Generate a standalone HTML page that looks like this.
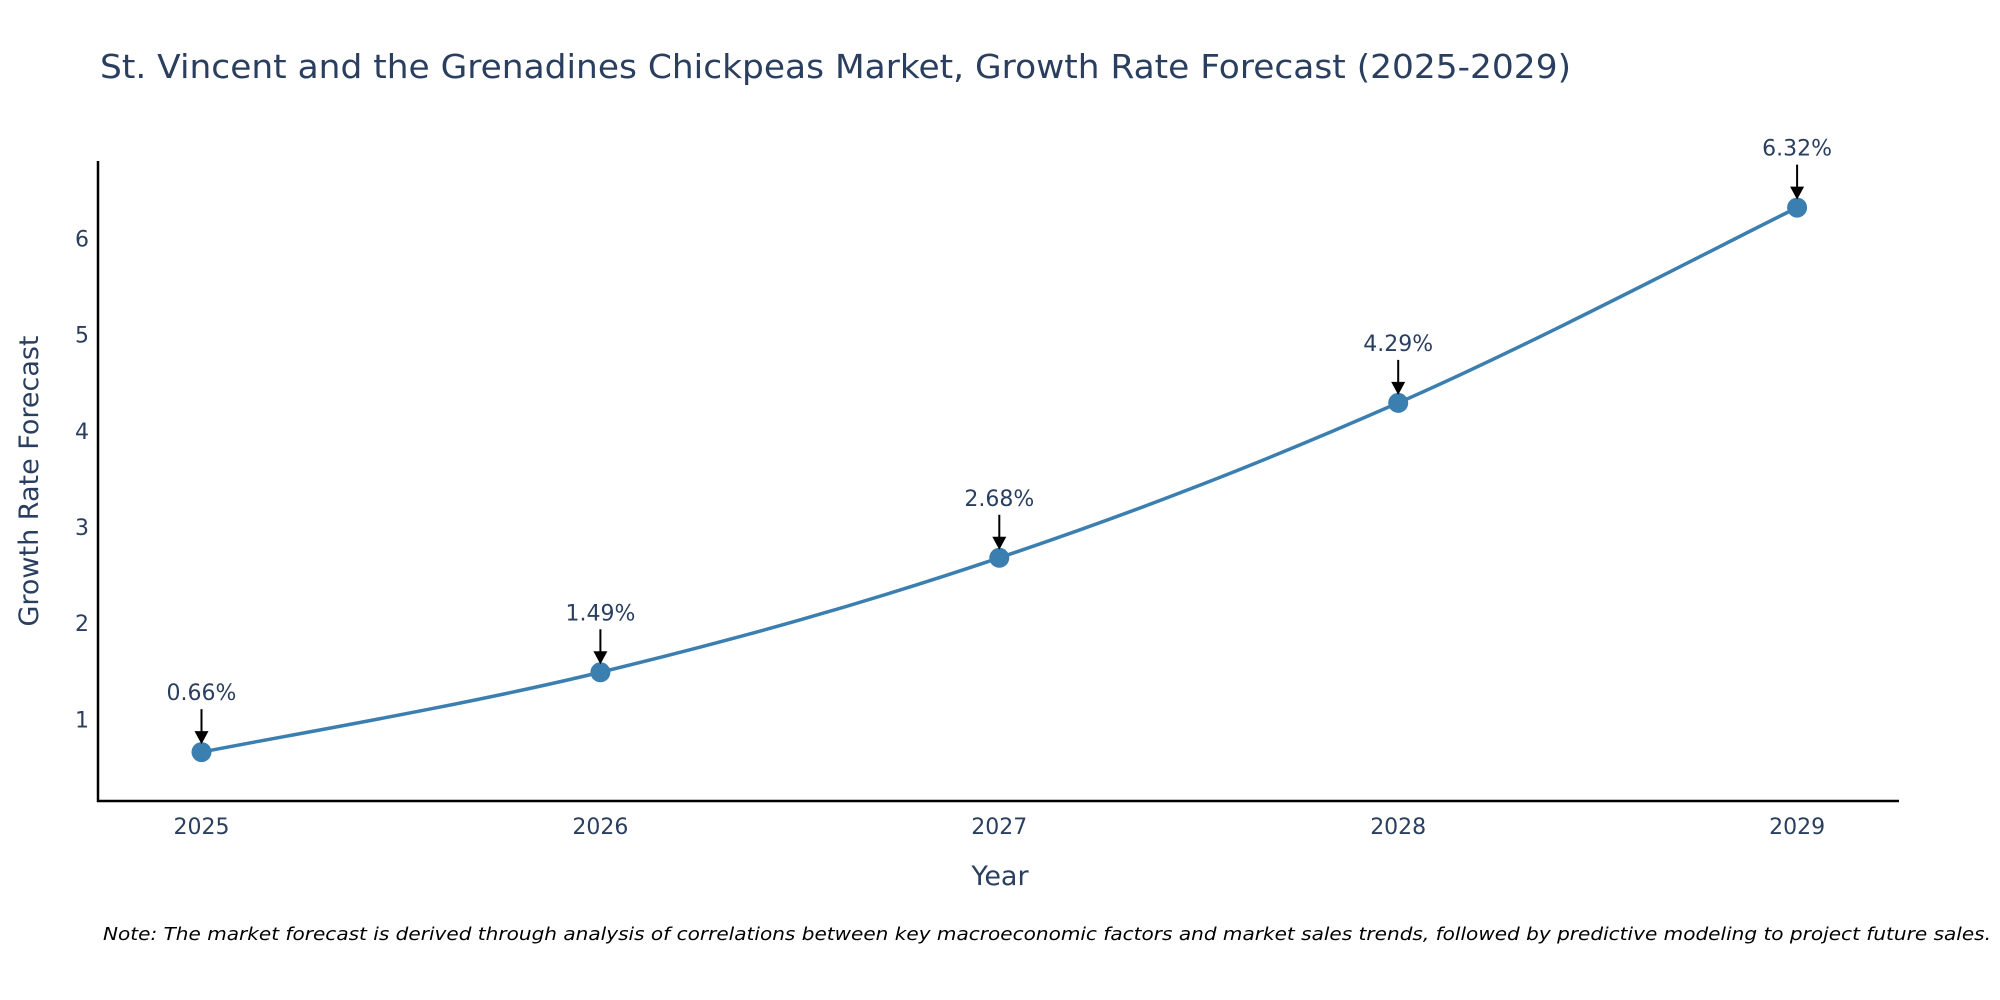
<!DOCTYPE html>
<html><head><meta charset="utf-8"><style>
html,body{margin:0;padding:0;background:#fff;}
svg{display:block;font-family:"DejaVu Sans","Liberation Sans",sans-serif;}
</style></head><body>
<svg id="chart" width="2000" height="1000" viewBox="0 0 2000 1000">
<text x="100" y="78" font-size="33" fill="#2a3f5f" textLength="1471" lengthAdjust="spacingAndGlyphs">St. Vincent and the Grenadines Chickpeas Market, Growth Rate Forecast (2025-2029)</text>
<g id="axes"></g>
<g id="plot"></g>
<text x="1000" y="885" font-size="27" fill="#2a3f5f" text-anchor="middle">Year</text>
<text transform="translate(38,481) rotate(-90)" font-size="27" fill="#2a3f5f" text-anchor="middle">Growth Rate Forecast</text>
<text x="103" y="940" font-size="18" font-style="italic" fill="#000" textLength="1888" lengthAdjust="spacingAndGlyphs">Note: The market forecast is derived through analysis of correlations between key macroeconomic factors and market sales trends, followed by predictive modeling to project future sales.</text>
</svg>
<script>
const years = [2025, 2026, 2027, 2028, 2029];
const growth = [0.66, 1.49, 2.68, 4.29, 6.32];
const yTicks = [1, 2, 3, 4, 5, 6];
const labels = ["0.66%", "1.49%", "2.68%", "4.29%", "6.32%"];

const NS = "http://www.w3.org/2000/svg";
const X0 = 201.5, XS = 398.9;
const Y0 = 815.6, YS = 96.2;
const xp = v => X0 + (v - 2025) * XS;
const yp = v => Y0 - v * YS;
function mk(tag, attrs, parent){const e=document.createElementNS(NS,tag);for(const k in attrs)e.setAttribute(k,attrs[k]);parent.appendChild(e);return e;}
const axes = document.getElementById('axes');
const plot = document.getElementById('plot');

const ya = mk('line',{x1:98,y1:161,x2:98,y2:802,stroke:'#000','stroke-width':2.5},axes);


const xa = mk('line',{x1:97,y1:801,x2:1899,y2:801,stroke:'#000','stroke-width':2.5},axes);



yTicks.forEach(t=>{
  const e=mk('text',{x:89,y:yp(t)+8,'font-size':22,fill:'#2a3f5f','text-anchor':'end'},axes);
  e.textContent=t;
  
  
});
years.forEach(t=>{
  const e=mk('text',{x:xp(t),y:834,'font-size':22,fill:'#2a3f5f','text-anchor':'middle'},axes);
  e.textContent=t;
  
  
});

const pts = years.map((y,i)=>[xp(y),yp(growth[i])]);
let d = `M${pts[0][0]},${pts[0][1]}`;
const tension = 0.35;
for(let i=0;i<pts.length-1;i++){
  const p0=pts[Math.max(0,i-1)],p1=pts[i],p2=pts[i+1],p3=pts[Math.min(pts.length-1,i+2)];
  const c1=[p1[0]+(p2[0]-p0[0])*tension/2,p1[1]+(p2[1]-p0[1])*tension/2];
  const c2=[p2[0]-(p3[0]-p1[0])*tension/2,p2[1]-(p3[1]-p1[1])*tension/2];
  d+=` C${c1[0]},${c1[1]} ${c2[0]},${c2[1]} ${p2[0]},${p2[1]}`;
}
const line = mk('path',{d:d,fill:'none',stroke:'#3b7fb0','stroke-width':3.5},plot);



pts.forEach((p,i)=>{
  const c=mk('circle',{cx:p[0],cy:p[1],r:10,fill:'#3b7fb0'},plot);
  
  
  const a=mk('line',{x1:p[0],y1:p[1]-43,x2:p[0],y2:p[1]-20,stroke:'#000','stroke-width':2},plot);
  
  
  const h=mk('polygon',{points:`${p[0]-7},${p[1]-21} ${p[0]+7},${p[1]-21} ${p[0]},${p[1]-8}`,fill:'#000'},plot);
  
  
  const t=mk('text',{x:p[0],y:p[1]-52,'font-size':22,fill:'#2a3f5f','text-anchor':'middle'},plot);
  t.textContent=labels[i];
  
  
});
</script>
</body></html>
